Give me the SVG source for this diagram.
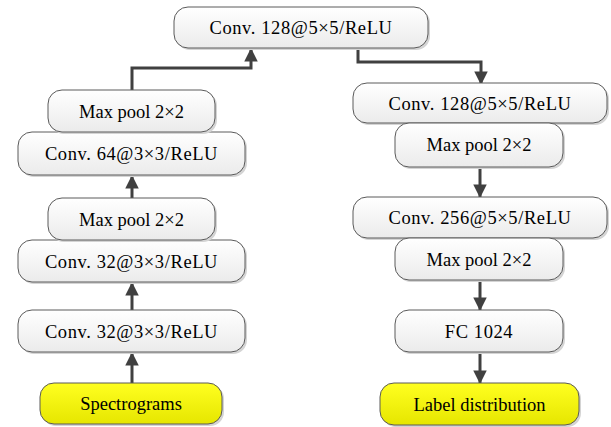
<svg xmlns="http://www.w3.org/2000/svg" width="611" height="427" viewBox="0 0 611 427">
<defs>
<linearGradient id="g" x1="0" y1="0" x2="0" y2="1"><stop offset="0" stop-color="#ffffff"/><stop offset="1" stop-color="#ebebeb"/></linearGradient>
<linearGradient id="y" x1="0" y1="0" x2="0" y2="1"><stop offset="0" stop-color="#ffff20"/><stop offset="1" stop-color="#e6e600"/></linearGradient>
<marker id="a" markerWidth="4.5" markerHeight="4.5" refX="4.2" refY="2.25" orient="auto" markerUnits="strokeWidth"><path d="M0,0 L4.5,2.25 L0,4.5 z" fill="#404040"/></marker>
</defs>
<style>
.sh{fill:#d4d4d4}
.b{fill:url(#g);stroke:#5a5a5a;stroke-width:1}
.yb{fill:url(#y);stroke:#5a5a5a;stroke-width:1}
text{font-family:"Liberation Serif","Times New Roman",serif;font-size:18.5px;fill:#000;text-anchor:middle}
.w{letter-spacing:0.6px}
.c{fill:none;stroke:#404040;stroke-width:3;marker-end:url(#a)}
</style>
<rect width="611" height="427" fill="#ffffff"/>
<g id="connectors">
<path class="c" d="M132,383 V353"/>
<path class="c" d="M132,310 V283"/>
<path class="c" d="M132,198 V176"/>
<path class="c" d="M132,90 V68 H251 V49"/>
<path class="c" d="M358,48 V62 H481 V84"/>
<path class="c" d="M480,167 V197"/>
<path class="c" d="M480,280 V310"/>
<path class="c" d="M480,352 V383"/>
</g>
<g id="top"><rect class="sh" x="176" y="9" width="254" height="41" rx="14"/><rect class="b" x="174" y="7" width="254" height="41" rx="14"/><text class="w" x="301" y="34">Conv. 128@5×5/ReLU</text></g>
<g id="l_conv64"><rect class="sh" x="20" y="134" width="227" height="43" rx="14"/><rect class="b" x="18" y="132" width="227" height="43" rx="14"/><text class="w" x="131.5" y="160">Conv. 64@3×3/ReLU</text></g>
<g id="l_pool1"><rect class="sh" x="50" y="92" width="167" height="42" rx="14"/><rect class="b" x="48" y="90" width="167" height="42" rx="14"/><text x="131.5" y="117.5">Max pool 2×2</text></g>
<g id="l_conv32b"><rect class="sh" x="20" y="242" width="227" height="42" rx="14"/><rect class="b" x="18" y="240" width="227" height="42" rx="14"/><text class="w" x="131.5" y="267.5">Conv. 32@3×3/ReLU</text></g>
<g id="l_pool2"><rect class="sh" x="50" y="200" width="167" height="42" rx="14"/><rect class="b" x="48" y="198" width="167" height="42" rx="14"/><text x="131.5" y="225.5">Max pool 2×2</text></g>
<g id="l_conv32a"><rect class="sh" x="20" y="312" width="227" height="42" rx="14"/><rect class="b" x="18" y="310" width="227" height="42" rx="14"/><text class="w" x="131.5" y="337.5">Conv. 32@3×3/ReLU</text></g>
<g id="spectrograms"><rect class="sh" x="42" y="385" width="182" height="41" rx="14"/><rect class="yb" x="40" y="383" width="182" height="41" rx="14"/><text x="131" y="410">Spectrograms</text></g>
<g id="r_conv128"><rect class="sh" x="355" y="85" width="254" height="40" rx="14"/><rect class="b" x="353" y="83" width="254" height="40" rx="14"/><text class="w" x="480" y="109.5">Conv. 128@5×5/ReLU</text></g>
<g id="r_pool1"><rect class="sh" x="397" y="125" width="168" height="44" rx="14"/><rect class="b" x="395" y="123" width="168" height="44" rx="14"/><text x="479" y="151">Max pool 2×2</text></g>
<g id="r_conv256"><rect class="sh" x="355" y="199" width="254" height="41" rx="14"/><rect class="b" x="353" y="197" width="254" height="41" rx="14"/><text class="w" x="480" y="224">Conv. 256@5×5/ReLU</text></g>
<g id="r_pool2"><rect class="sh" x="397" y="240" width="168" height="42" rx="14"/><rect class="b" x="395" y="238" width="168" height="42" rx="14"/><text x="479" y="265.5">Max pool 2×2</text></g>
<g id="fc"><rect class="sh" x="397" y="312" width="168" height="42" rx="14"/><rect class="b" x="395" y="310" width="168" height="42" rx="14"/><text class="w" x="479" y="337.5">FC 1024</text></g>
<g id="label"><rect class="sh" x="382" y="385" width="199" height="42" rx="14"/><rect class="yb" x="380" y="383" width="199" height="42" rx="14"/><text x="479.5" y="410.5">Label distribution</text></g>
</svg>
